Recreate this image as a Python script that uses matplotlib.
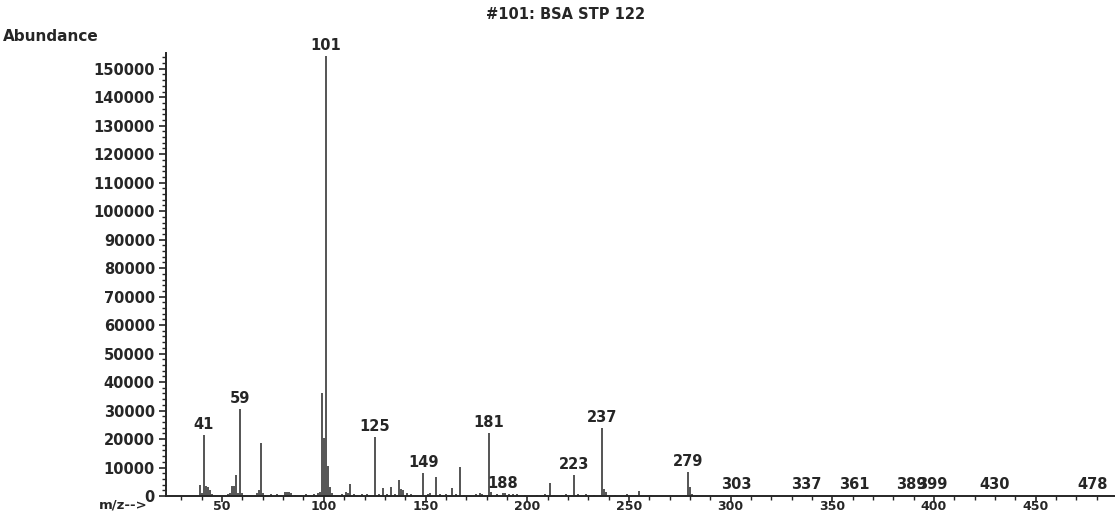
import numpy as np
import matplotlib.pyplot as plt
from matplotlib.ticker import MultipleLocator

# m/z values and their abundance
mz = [39, 40, 41, 42, 43, 44, 45, 53, 54, 55, 56, 57, 58, 59, 60,
      67, 68, 69, 70, 71, 74, 77, 79, 81, 82, 83, 84, 86, 89, 91, 95,
      97, 98, 99, 100, 101, 102, 103, 104, 109, 111, 112, 113, 115, 119,
      121, 125, 127, 129, 131, 133, 135, 137, 138, 139, 141, 143, 149,
      151, 152, 155, 157, 160, 163, 165, 167, 169, 175, 177, 178, 181,
      182, 185, 188, 189, 191, 193, 195, 199, 205, 209, 211, 213, 217,
      219, 223, 225, 229, 233, 237, 238, 239, 243, 249, 255, 261, 279,
      280, 281, 303, 337, 361, 389, 399, 430, 478]
abundance = [3900, 1000, 21400, 3500, 3000, 2000, 800, 800, 1200, 3500,
             3500, 7400, 1200, 30500, 1000, 1000, 2000, 18600, 1200, 500,
             800, 600, 500, 1500, 1500, 1500, 1200, 500, 400, 600, 700,
             1200, 1500, 36000, 20500, 154500, 10500, 3000, 1000, 800,
             1500, 1200, 4200, 600, 800, 600, 20800, 800, 2800, 700, 3000,
             800, 5600, 2500, 2000, 1200, 600, 8000, 800, 1000, 6800, 600,
             800, 2800, 700, 10200, 500, 800, 900, 700, 22100, 1500, 600,
             900, 1000, 800, 700, 600, 500, 500, 600, 4600, 500, 500, 600,
             7400, 600, 800, 500, 24000, 2500, 1500, 500, 800, 1600, 500,
             8400, 3000, 600, 300, 300, 300, 300, 300, 300, 300]

# peaks that carry a label
labeled = [41, 59, 101, 125, 149, 181, 188, 223, 237, 279,
           303, 337, 361, 389, 399, 430, 478]

ink = '#262626'
font = dict(family='DejaVu Sans', weight='bold', color=ink)

fig = plt.figure(figsize=(11.15, 5.13), dpi=100)
ax = fig.add_axes([0.1489, 0.0331, 0.851, 0.8635])

ax.vlines(mz, 0, abundance, color=ink, linewidth=1.1)

lookup = dict(zip(mz, abundance))
for m in labeled:
    ax.annotate(str(m), (m, lookup[m]), xytext=(0, 2), textcoords='offset points',
                ha='center', va='bottom', fontsize=10.5, **font)

ax.set_xlim(22.4, 489)
ax.set_ylim(0, 155500)

ax.xaxis.set_major_locator(MultipleLocator(50))
ax.xaxis.set_minor_locator(MultipleLocator(10))
ax.yaxis.set_major_locator(MultipleLocator(10000))
ax.yaxis.set_minor_locator(MultipleLocator(2000))
ax.set_xticks([50, 100, 150, 200, 250, 300, 350, 400, 450])

ax.tick_params(which='major', direction='out', length=5, width=1.2, color=ink,
               labelsize=10.5, labelcolor=ink, pad=3)
ax.tick_params(which='minor', direction='out', length=3, width=1, color=ink)
ax.tick_params(axis='x', which='major', length=4, labelsize=9, pad=-1)
for lab in ax.get_xticklabels() + ax.get_yticklabels():
    lab.set_fontweight('bold')

for side in ['top', 'right']:
    ax.spines[side].set_visible(False)
for side in ['left', 'bottom']:
    ax.spines[side].set_linewidth(1.4)
    ax.spines[side].set_color(ink)

fig.text(0.507, 0.972, '#101: BSA STP 122', ha='center', va='center', fontsize=10.5, **font)
fig.text(0.003, 0.928, 'Abundance', ha='left', va='center', fontsize=11, **font)
fig.text(0.132, 0.002, 'm/z-->', ha='right', va='bottom', fontsize=9.5, **font)

fig.savefig('out.png', dpi=100)
